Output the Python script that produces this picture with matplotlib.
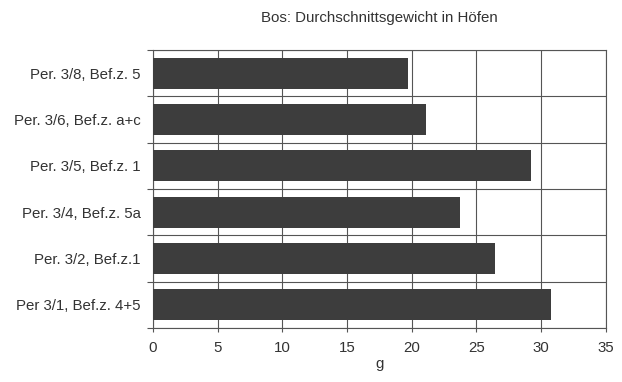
import matplotlib
matplotlib.use("Agg")
import matplotlib.pyplot as plt
import numpy as np

plt.rcParams["font.family"] = ["Liberation Sans", "DejaVu Sans"]

# top to bottom as shown
categories = [
    "Per. 3/8, Bef.z. 5",
    "Per. 3/6, Bef.z. a+c",
    "Per. 3/5, Bef.z. 1",
    "Per. 3/4, Bef.z. 5a",
    "Per. 3/2, Bef.z.1",
    "Per 3/1, Bef.z. 4+5",
]
weights_g = [19.7, 21.1, 29.2, 23.7, 26.4, 30.8]
x_ticks = [0, 5, 10, 15, 20, 25, 30, 35]

BAR_COLOR = "#3d3d3d"
LINE_COLOR = "#555555"
TEXT_COLOR = "#333333"
FS = 10.8

fig = plt.figure(figsize=(6.22, 3.82), dpi=100)
ax = fig.add_axes([0.246, 0.141, 0.728, 0.728])

n = len(categories)
y = np.arange(n)[::-1]
ax.barh(y, weights_g, height=0.67, color=BAR_COLOR, zorder=3)

ax.set_xlim(0, 35)
ax.set_ylim(-0.5, n - 0.5)
ax.set_xticks(x_ticks)
ax.set_xticklabels([str(t) for t in x_ticks])

# boundaries between categories carry the ticks and grid lines
ax.set_yticks(np.arange(n + 1) - 0.5)
ax.set_yticklabels([])
ax.set_yticks(y, minor=True)
ax.set_yticklabels(categories, minor=True)
ax.tick_params(axis="y", which="minor", length=0, pad=9,
               labelsize=FS, labelcolor=TEXT_COLOR)
ax.tick_params(axis="y", which="major", length=4, width=0.8, color=LINE_COLOR)
ax.tick_params(axis="x", length=3, width=0.8, color=LINE_COLOR, pad=6,
               labelsize=FS, labelcolor=TEXT_COLOR)

ax.grid(True, which="major", color=LINE_COLOR, linewidth=0.8, zorder=0)
for s in ax.spines.values():
    s.set_color(LINE_COLOR)
    s.set_linewidth(0.8)

ax.set_xlabel("g", fontsize=FS, color=TEXT_COLOR, labelpad=2)
ax.set_title("Bos: Durchschnittsgewicht in Höfen", fontsize=FS,
             color=TEXT_COLOR, pad=20)

fig.savefig("out.png", dpi=100)
